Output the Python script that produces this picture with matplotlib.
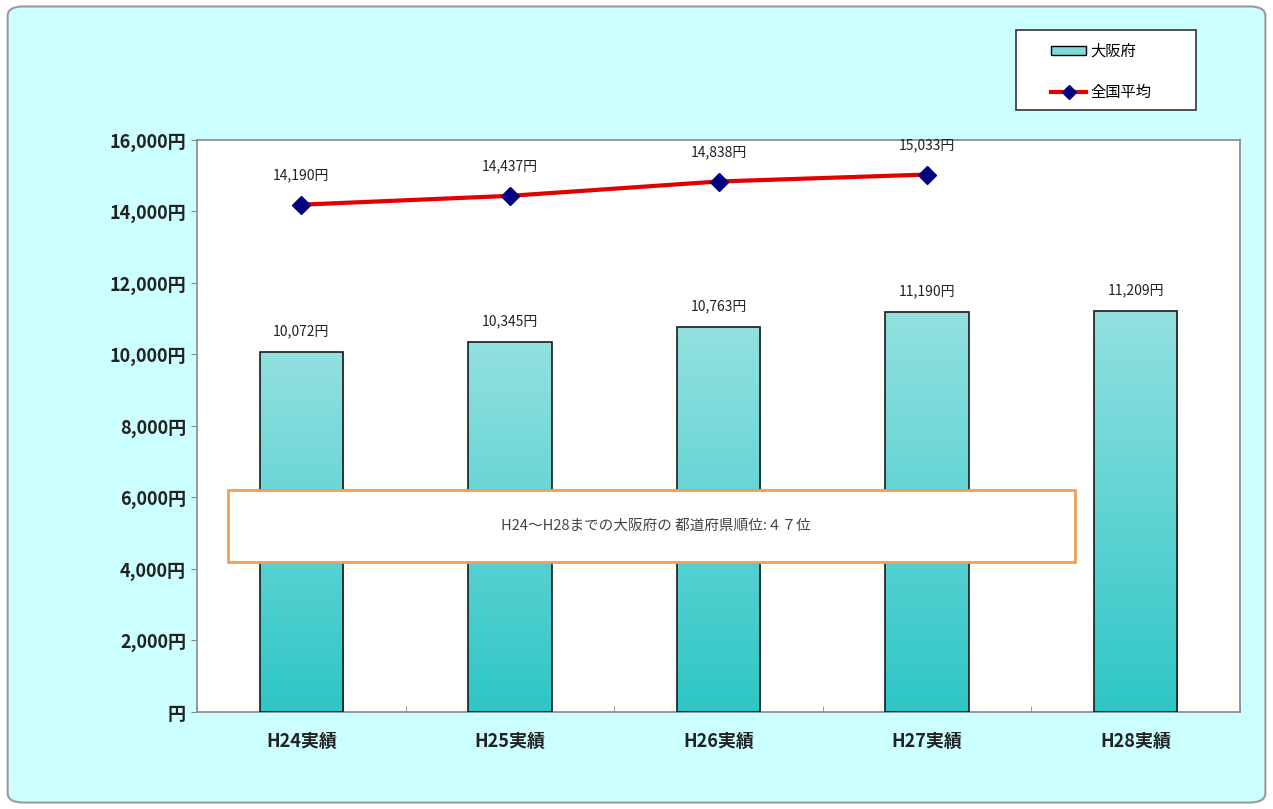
import numpy as np
import matplotlib.pyplot as plt
from matplotlib.patches import FancyBboxPatch, Rectangle, Patch
from matplotlib.lines import Line2D
from matplotlib.colors import LinearSegmentedColormap

plt.rcParams['font.family'] = ['Noto Sans CJK JP', 'DejaVu Sans']

categories = ['H24実績', 'H25実績', 'H26実績', 'H27実績', 'H28実績']
osaka = [10072, 10345, 10763, 11190, 11209]
national = [14190, 14437, 14838, 15033]
yticks = [0, 2000, 4000, 6000, 8000, 10000, 12000, 14000, 16000]
note = 'H24～H28までの大阪府の 都道府県順位:４７位'

W, H = 1273, 809
fig = plt.figure(figsize=(W / 100, H / 100), dpi=100)
fig.patch.set_facecolor('white')
bg = FancyBboxPatch((0.006, 0.008), 0.988, 0.984, boxstyle='round,pad=0,rounding_size=0.012',
                    transform=fig.transFigure, facecolor='#CCFFFF', edgecolor='#9a9a9a',
                    linewidth=1.5, zorder=-5)
fig.patches.append(bg)

ax = fig.add_axes([0.1548, 0.1199, 0.8193, 0.7071], zorder=2)
ax.set_facecolor('white')
x = np.arange(len(categories))

cmap = LinearSegmentedColormap.from_list('teal', ['#2EC6C6', '#93E0E0'])
grad = np.linspace(0, 1, 256).reshape(-1, 1)
bars = ax.bar(x, osaka, width=0.4, color='none', edgecolor='#1a1a1a', linewidth=1.2, zorder=3)
for b in bars:
    x0, y0, w, h = b.get_x(), b.get_y(), b.get_width(), b.get_height()
    im = ax.imshow(grad, cmap=cmap, origin='lower', aspect='auto',
                   extent=[x0, x0 + w, y0, y0 + h], zorder=2)
    im.set_clip_path(Rectangle((x0, y0), w, h, transform=ax.transData))
ax.set_xlim(-0.5, len(categories) - 0.5)
ax.set_ylim(0, 16000)
for xi, v in zip(x, osaka):
    ax.annotate(f'{v:,}円', (xi, v), xytext=(0, 10), textcoords='offset points',
                ha='center', va='bottom', fontsize=10, color='#222222', zorder=5)

xn = x[:len(national)]
ax.plot(xn, national, color='#E00000', linewidth=3, marker='D', markersize=9,
        markerfacecolor='#000080', markeredgecolor='#000080', zorder=4)
for xi, v in zip(xn, national):
    ax.annotate(f'{v:,}円', (xi, v), xytext=(0, 16), textcoords='offset points',
                ha='center', va='bottom', fontsize=10, color='#222222', zorder=5)

# note box
ax.add_patch(Rectangle((-0.35, 4200), 4.06, 2000, facecolor='white', edgecolor='#F0A050',
                       linewidth=2, zorder=5))
ax.text(1.7, 5200, note, ha='center', va='center', fontsize=10.5, color='#444444', zorder=6)

# legend box drawn by hand, entries via legend without frame
fig.patches.append(Rectangle((1016 / W, 1 - 110 / H), 180 / W, 80 / H,
                             transform=fig.transFigure, facecolor='white',
                             edgecolor='#333333', linewidth=1.2, zorder=-1))
handles = [Patch(facecolor='#7FDADA', edgecolor='black', label='大阪府'),
           Line2D([0], [0], color='#E00000', lw=3, marker='D', markersize=7,
                  markerfacecolor='#000080', markeredgecolor='#000080', label='全国平均')]
leg = fig.legend(handles=handles, loc='upper left', bbox_to_anchor=(1051 / W, 1 - 43 / H),
                 frameon=False, fontsize=11, handlelength=2.3, handleheight=0.6,
                 labelspacing=1.55, borderpad=0, handletextpad=0.3, borderaxespad=0)

ax.set_xticks(x)
ax.set_xticklabels(categories, fontsize=13, fontweight='bold', color='#222222')
ax.set_xticks(np.arange(len(categories) + 1) - 0.5, minor=True)
ax.tick_params(axis='x', which='major', length=0, pad=14)
ax.tick_params(axis='x', which='minor', length=4, direction='in', color='#888888')
ax.set_yticks(yticks)
ax.set_yticklabels([f'{v:,}円' if v else '円' for v in yticks], fontsize=13,
                   fontweight='bold', color='#222222')
ax.tick_params(axis='y', length=4, direction='out', color='#888888', pad=4)
for s in ax.spines.values():
    s.set_color('#888888')
    s.set_linewidth(1.2)

fig.savefig('out.png', dpi=100, facecolor=fig.get_facecolor())
